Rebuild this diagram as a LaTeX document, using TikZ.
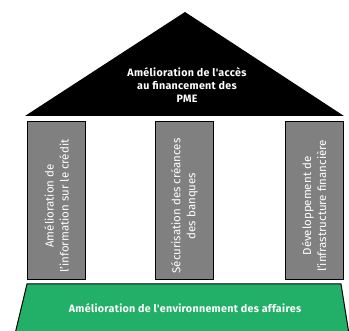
\documentclass[tikz,border=0pt]{standalone}
\usepackage{fontspec}
\setmainfont{Fira Sans}
\newfontfamily\bandfont[LetterSpace=3]{Fira Sans}
\usetikzlibrary{positioning}
\definecolor{pme_green}{RGB}{34,176,104}
\definecolor{pme_gray}{RGB}{128,128,128}

\begin{document}
\begin{tikzpicture}[x=1pt, y=-1pt,
    pillar/.style={draw=black, line width=1pt, fill=pme_gray, rotate=90,
      minimum width=158pt, minimum height=58pt, inner sep=0pt},
    pillartext/.style={rotate=90, text=white, align=center, inner sep=0pt,
      font=\fontsize{11.5}{15}\selectfont},
    bandtext/.style={text=white, align=center, inner sep=0pt,
      font=\bandfont\bfseries\fontsize{10.7}{12.8}\selectfont}]
  \useasboundingbox (0,0) rectangle (349,331);

  % roof
  \coordinate (eaveL) at (25,116);
  \coordinate (ridge) at (185,12);
  \coordinate (eaveR) at (344,116);
  \fill[black] (eaveL) -- (ridge) -- (eaveR) -- cycle;
  \node[bandtext] (goal) at (187,85)
    {Amélioration de l'accès\\au financement des\\PME};

  % pillars
  \node[pillar] (credit) at (56.5,201) {};
  \node[pillar] (claims) at (184.5,201) {};
  \node[pillar] (infra) at (314,201) {};
  \node[pillartext] (creditlbl) at ([yshift=-5pt]credit.center)
    {Amélioration de\\l'information sur le crédit};
  \node[pillartext] (claimslbl) at ([yshift=-5pt]claims.center)
    {Sécurisation des créances\\des banques};
  \node[pillartext] (infralbl) at ([yshift=-5pt]infra.center)
    {Développement de\\l'infrastructure financière};

  % base
  \coordinate (plinthL) at (27,284);
  \coordinate (plinthR) at (341,284);
  \filldraw[fill=pme_green, draw=black, line width=1pt]
    (15,334) -- (plinthL) -- (plinthR) -- (349,334);
  \node[bandtext] (ground) at (185,308)
    {Amélioration de l'environnement des affaires};
\end{tikzpicture}
\end{document}
